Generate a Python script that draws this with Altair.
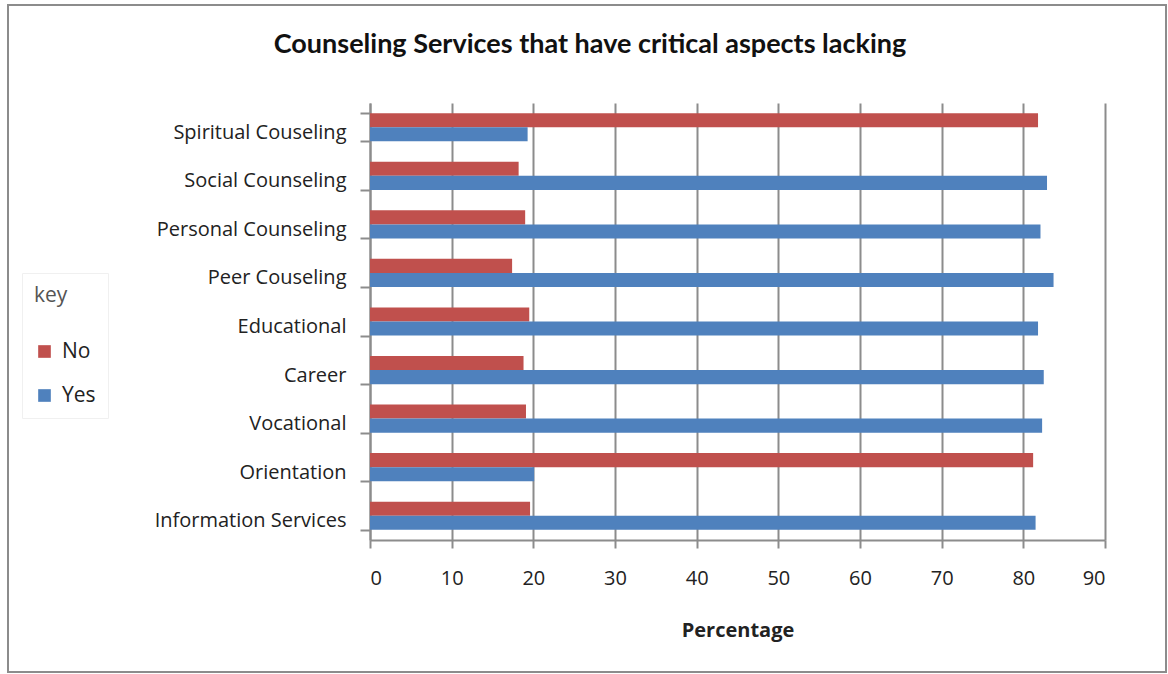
import altair as alt
import pandas as pd

categories = ["Spiritual Couseling", "Social Counseling", "Personal Counseling",
              "Peer Couseling", "Educational", "Career", "Vocational",
              "Orientation", "Information Services"]
no_values = [81.8, 18.2, 19.0, 17.4, 19.5, 18.8, 19.1, 81.2, 19.6]
yes_values = [19.3, 82.9, 82.1, 83.7, 81.8, 82.5, 82.3, 20.1, 81.5]
series = ["No", "Yes"]
colors = ["#C0504D", "#4F81BD"]
x_ticks = [0, 10, 20, 30, 40, 50, 60, 70, 80, 90]
title_text = "Counseling Services that have critical aspects lacking"

rows = []
for c, n, y in zip(categories, no_values, yes_values):
    rows.append({"Service": c, "Response": "No", "Percentage": n})
    rows.append({"Service": c, "Response": "Yes", "Percentage": y})
df = pd.DataFrame(rows)

FONT = "Open Sans"
PAD_L, PAD_T = 370, 103
W, H = 735, 437

bars = alt.Chart(df).mark_bar(stroke=None).encode(
    x=alt.X("Percentage:Q",
            scale=alt.Scale(domain=[0, 90], nice=False),
            axis=alt.Axis(values=x_ticks, title="Percentage", grid=True,
                          gridColor="#8c8c8c", gridWidth=2,
                          domainColor="#8c8c8c", domainWidth=2,
                          tickColor="#8c8c8c", tickWidth=2, tickSize=8,
                          labelFontSize=20, labelColor="#222", labelPadding=20,
                          labelFont=FONT, titleFont=FONT, titleFontSize=20,
                          titleFontWeight="bold", titleColor="#222",
                          titlePadding=32)),
    y=alt.Y("Service:N", sort=categories,
            scale=alt.Scale(paddingInner=0.42, paddingOuter=0.21),
            axis=alt.Axis(title=None, grid=False, tickBand="extent",
                          domainColor="#8c8c8c", domainWidth=2,
                          tickColor="#8c8c8c", tickWidth=2, tickSize=10,
                          labelFontSize=20, labelColor="#222", labelFont=FONT,
                          labelPadding=14, labelOffset=5, labelLimit=400)),
    yOffset=alt.YOffset("Response:N", sort=series),
    color=alt.Color("Response:N",
                    scale=alt.Scale(domain=series, range=colors),
                    legend=alt.Legend(title="key", orient="none",
                                      legendX=22 - PAD_L, legendY=273 - PAD_T,
                                      symbolType="square", symbolSize=160,
                                      symbolStrokeWidth=0, labelOffset=7,
                                      labelFontSize=21, labelFont=FONT,
                                      labelColor="#222",
                                      titleFontSize=21, titleFont=FONT,
                                      titleFontWeight="normal", titleColor="#555",
                                      titlePadding=35, rowPadding=22,
                                      padding=12, strokeColor="#f0f0f0")),
)

frame = alt.Chart(pd.DataFrame({"k": [0]})).mark_rect(
    fill=None, stroke="#8c8c8c", strokeWidth=2
).encode(
    x=alt.value(8 - PAD_L), x2=alt.value(1166 - PAD_L),
    y=alt.value(5 - PAD_T), y2=alt.value(672 - PAD_T),
)

title = alt.Chart(pd.DataFrame({"t": [title_text]})).mark_text(
    font="Lato", fontSize=27, fontWeight="bold", color="#111",
    align="center", baseline="middle"
).encode(
    x=alt.value(590 - PAD_L), y=alt.value(45 - PAD_T), text="t:N"
)

chart = alt.layer(frame, bars, title).properties(
    width=W, height=H,
    autosize=alt.AutoSizeParams(type="none"),
    padding={"left": PAD_L, "top": PAD_T, "right": 1168 - PAD_L - W,
             "bottom": 674 - PAD_T - H},
    background="white",
).configure_view(stroke=None)

chart.save("out.html", embed_options={"renderer": "svg", "actions": False})
